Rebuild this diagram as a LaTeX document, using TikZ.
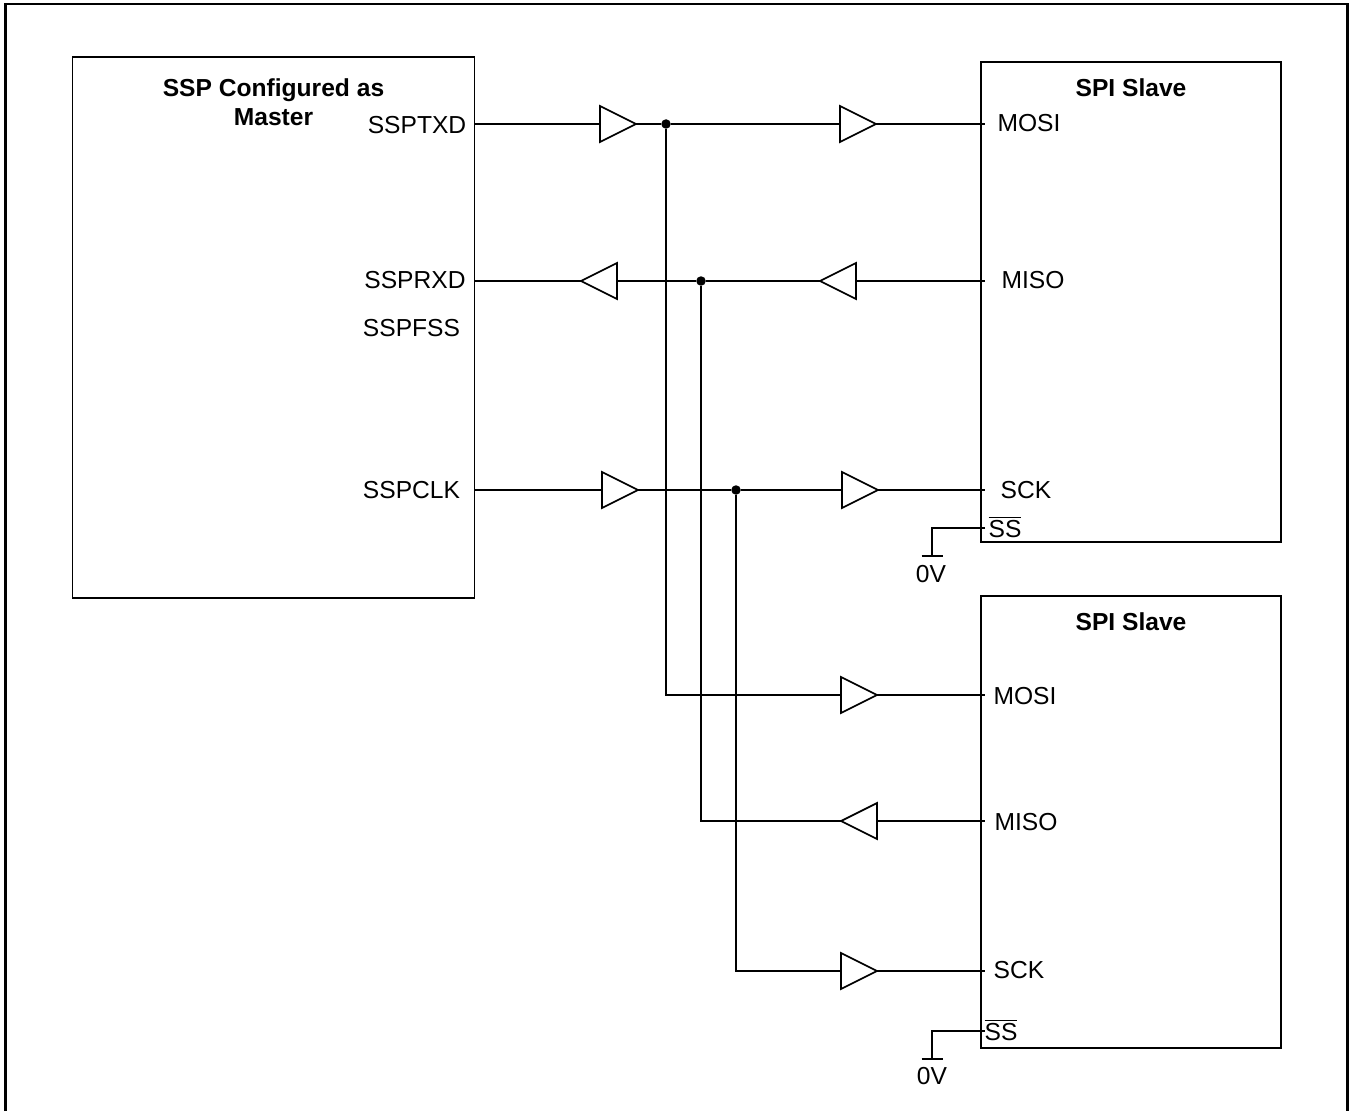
\documentclass[tikz,border=0pt]{standalone}
\usepackage{fontspec}
\setmainfont{Liberation Sans}
\usetikzlibrary{shapes.geometric}
\begin{document}
\begin{tikzpicture}[x=0.02cm,y=-0.02cm,line width=1pt,font=\fontsize{14}{16.5}\selectfont]
      \tikzset{block/.style={draw, rectangle, inner sep=0pt, minimum width=#1},
        buffer/.style={draw, isosceles triangle, isosceles triangle stretches, inner sep=0pt, outer sep=0pt, minimum width=0.72cm, minimum height=0.72cm, anchor=lower side},
        bufferl/.style={buffer, shape border rotate=180},
        junction/.style={circle, fill=black, inner sep=0pt, outer sep=0pt, minimum size=0.19cm},
        pin/.style={inner sep=0pt},
        title/.style={inner sep=0pt, font=\fontsize{14}{16.5}\selectfont\bfseries, align=center}}
      \useasboundingbox (0,0) rectangle (1354,1111);
      \draw[line width=1.7pt] (5.5,1111) |- (1347,4) -- (1347,1111);
      % blocks
      \node[block=8.04cm, minimum height=10.82cm] (master) at (273.5,327.5) {};
      \node[block=6cm, minimum height=9.6cm] (slavea) at (1131,302) {};
      \node[block=6cm, minimum height=9.04cm] (slaveb) at (1131,822) {};
      \node[title] (mastertitle) at (273.5,102) {SSP Configured as\\Master};
      \node[title] (slaveatitle) at (1131,88) {SPI Slave};
      \node[title] (slavebtitle) at (1131,622) {SPI Slave};
      % pins
      \node[pin] (ssptxd) at (417,125) {SSPTXD};
      \node[pin] (ssprxd) at (415,280) {SSPRXD};
      \node[pin] (sspfss) at (411.5,328) {SSPFSS};
      \node[pin] (sspclk) at (411.5,490) {SSPCLK};
      \node[pin] (mosia) at (1029,123) {MOSI};
      \node[pin] (misoa) at (1033,280) {MISO};
      \node[pin] (scka) at (1026,490) {SCK};
      \node[pin] (ssa) at (1005,527) {$\overline{\mbox{SS}}$};
      \node[pin] (zeroa) at (931,574) {0V};
      \node[pin] (mosib) at (1025,696) {MOSI};
      \node[pin] (misob) at (1026,822) {MISO};
      \node[pin] (sckb) at (1019,970) {SCK};
      \node[pin] (ssb) at (1001,1030) {$\overline{\mbox{SS}}$};
      \node[pin] (zerob) at (932,1076) {0V};
      % buffers
      \node[buffer] (txa) at (600,124) {};
      \node[buffer] (txb) at (840,124) {};
      \node[bufferl] (rxa) at (617,281) {};
      \node[bufferl] (rxb) at (856,281) {};
      \node[buffer] (clka) at (602,490) {};
      \node[buffer] (clkb) at (842,490) {};
      \node[buffer] (txc) at (841,695) {};
      \node[bufferl] (rxc) at (877,821) {};
      \node[buffer] (clkc) at (841,971) {};
      \node[junction] (jtx) at (666,124) {};
      \node[junction] (jrx) at (701,281) {};
      \node[junction] (jclk) at (736,490) {};
      % wire ends on the blocks
      \coordinate (mtx) at (474,124);
      \coordinate (mrx) at (474,281);
      \coordinate (mclk) at (474,490);
      \coordinate (satx) at (985,124);
      \coordinate (sarx) at (985,281);
      \coordinate (saclk) at (985,490);
      \coordinate (sass) at (985,528);
      \coordinate (gnda) at (932,556);
      \coordinate (sbtx) at (985,695);
      \coordinate (sbrx) at (985,821);
      \coordinate (sbclk) at (985,971);
      \coordinate (sbss) at (985,1031);
      \coordinate (gndb) at (932,1059);
      \draw (mtx) -- (txa.lower side);
      \draw (txa.apex) -- (jtx) -- (txb.lower side);
      \draw (txb.apex) -- (satx);
      \draw (jtx) |- (txc.lower side);
      \draw (txc.apex) -- (sbtx);
      \draw (sarx) -- (rxb.lower side);
      \draw (rxb.apex) -- (jrx) -- (rxa.lower side);
      \draw (rxa.apex) -- (mrx);
      \draw (jrx) |- (rxc.apex);
      \draw (rxc.lower side) -- (sbrx);
      \draw (mclk) -- (clka.lower side);
      \draw (clka.apex) -- (jclk) -- (clkb.lower side);
      \draw (clkb.apex) -- (saclk);
      \draw (jclk) |- (clkc.lower side);
      \draw (clkc.apex) -- (sbclk);
      \draw (sass) -| (gnda);
      \draw ([xshift=-0.21cm]gnda) -- ([xshift=0.21cm]gnda);
      \draw (sbss) -| (gndb);
      \draw ([xshift=-0.21cm]gndb) -- ([xshift=0.21cm]gndb);
    \end{tikzpicture}
\end{document}
